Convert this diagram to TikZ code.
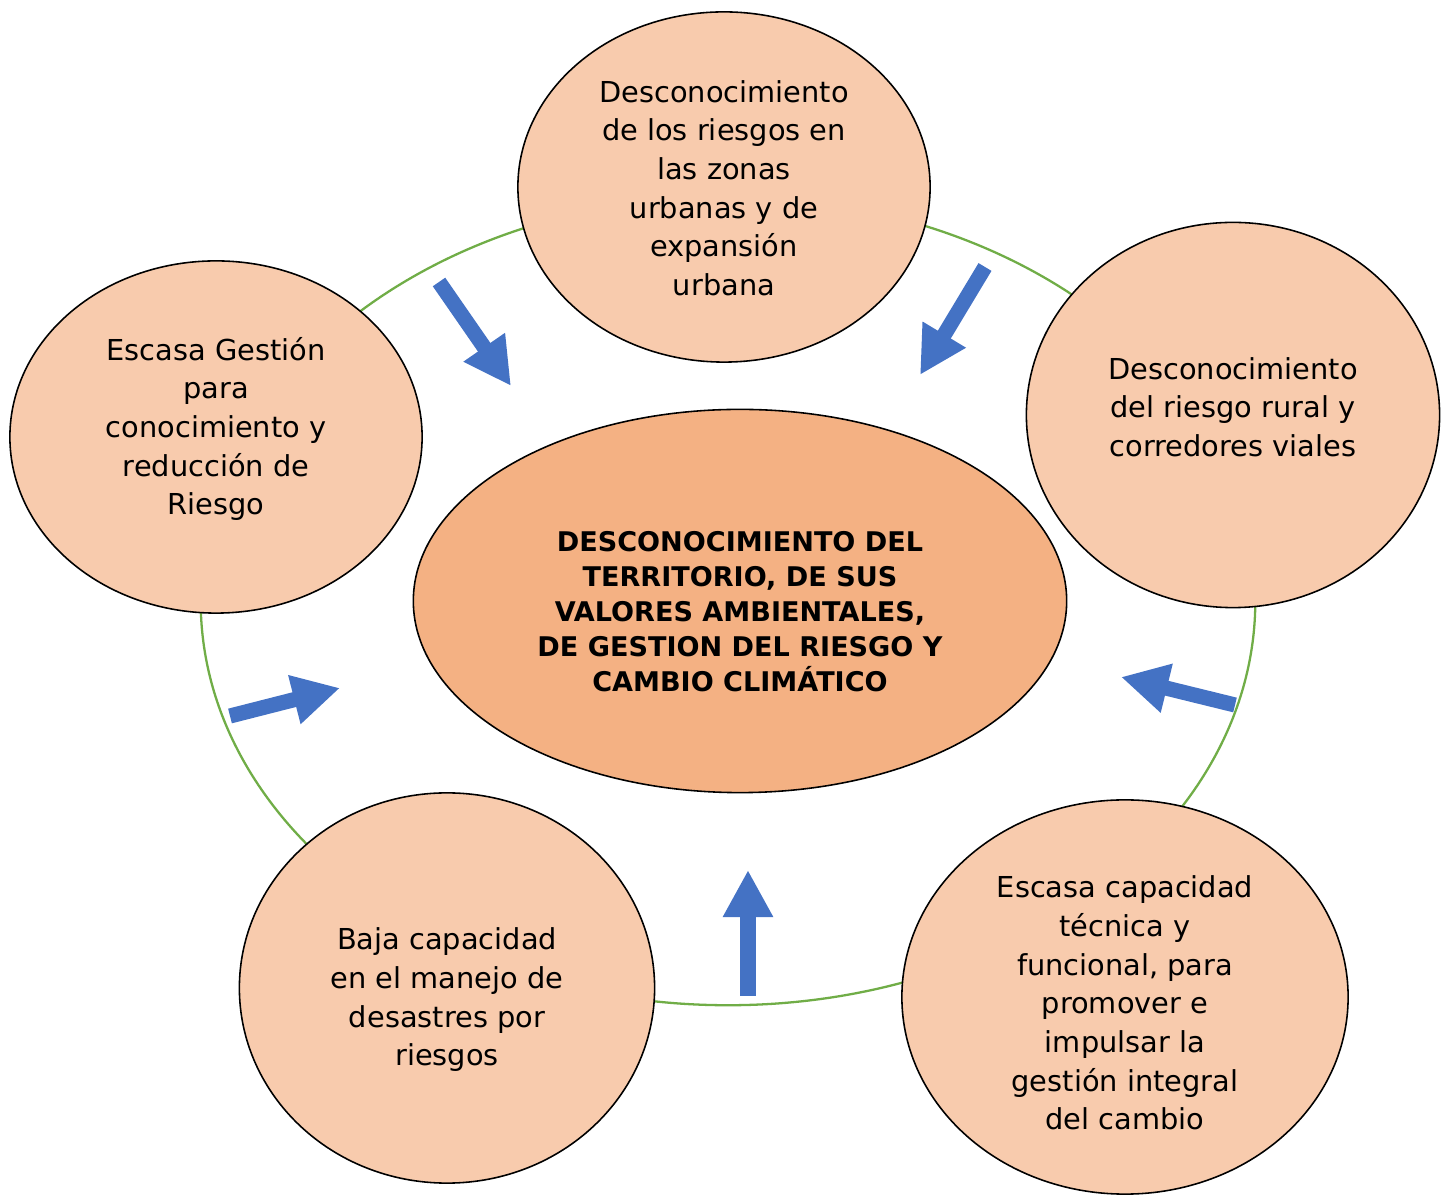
\documentclass[tikz,border=0pt]{standalone}
\usepackage{fontspec}
\setmainfont{DejaVu Sans}
\usetikzlibrary{arrows.meta, shapes.geometric}

\definecolor{peachlight}{HTML}{F8CBAD}
\definecolor{peachdark}{HTML}{F4B183}
\definecolor{ringgreen}{HTML}{70AD47}
\definecolor{pushblue}{HTML}{4472C4}

\tikzset{
  cause/.style={ellipse, draw=black, line width=0.45pt, fill=peachlight, inner sep=0pt},
  core/.style={cause, fill=peachdark},
  causetext/.style={align=center, inner sep=0pt, font=\fontsize{8.2}{11}\selectfont},
  coretext/.style={causetext, font=\bfseries\fontsize{7.7}{9.95}\selectfont},
  push/.style={pushblue, line width=4.3pt,
    -{Triangle[length=13.4pt, width=13.4pt]}}
}

\begin{document}
\begin{tikzpicture}[x=0.01cm, y=-0.01cm, line cap=butt, line join=miter]

    % ── Canvas (pixel grid of the original, y down) ─────────────────────────
    \useasboundingbox (0,0) rectangle (1448,1195);

    % ── Green ring behind everything ────────────────────────────────────────
    \draw[ringgreen, line width=0.65pt] (728,601) ellipse [x radius=5.27cm, y radius=4.04cm];

    % ── Causes around the ring ──────────────────────────────────────────────
    \node[cause, minimum width=4.12cm, minimum height=3.50cm] (urban) at (724,187) {};
    \node[causetext] (urbanT) at (724,188)
        {Desconocimiento\\de los riesgos en\\las zonas\\urbanas y de\\expansión\\urbana};

    \node[cause, minimum width=4.12cm, minimum height=3.52cm] (gestion) at (216,437) {};
    \node[causetext] (gestionT) at (216,429)
        {Escasa Gestión\\para\\conocimiento y\\reducción de\\Riesgo};

    \node[cause, minimum width=4.13cm, minimum height=3.85cm] (rural) at (1233,415) {};
    \node[causetext] (ruralT) at (1233,407)
        {Desconocimiento\\del riesgo rural y\\corredores viales};

    \node[cause, minimum width=4.15cm, minimum height=3.90cm] (desastres) at (447,988) {};
    \node[causetext] (desastresT) at (447,1000)
        {Baja capacidad\\en el manejo de\\desastres por\\riesgos};

    \node[cause, minimum width=4.46cm, minimum height=3.94cm] (tecnica) at (1125,997) {};
    \node[causetext] (tecnicaT) at (1125,1003)
        {Escasa capacidad\\técnica y\\funcional, para\\promover e\\impulsar la\\gestión integral\\del cambio};

    % ── Central problem ─────────────────────────────────────────────────────
    \node[core, minimum width=6.53cm, minimum height=3.83cm] (problema) at (740,601) {};
    \node[coretext] (problemaT) at (740,612)
        {DESCONOCIMIENTO DEL\\TERRITORIO, DE SUS\\VALORES AMBIENTALES,\\DE GESTION DEL RIESGO Y\\CAMBIO CLIMÁTICO};

    % ── Block arrows pointing inward ────────────────────────────────────────
    \coordinate (urbanA)     at (439,282);
    \coordinate (urbanB)     at (511,386);
    \coordinate (ruralA)     at (985,267);
    \coordinate (ruralB)     at (920,375);
    \coordinate (tecnicaA)   at (1235,705);
    \coordinate (tecnicaB)   at (1121,677);
    \coordinate (desastresA) at (748,996);
    \coordinate (desastresB) at (748,870);
    \coordinate (gestionA)   at (230,716);
    \coordinate (gestionB)   at (340,688);

    \draw[push] (urbanA) -- (urbanB);
    \draw[push] (ruralA) -- (ruralB);
    \draw[push] (tecnicaA) -- (tecnicaB);
    \draw[push] (desastresA) -- (desastresB);
    \draw[push] (gestionA) -- (gestionB);

\end{tikzpicture}
\end{document}
